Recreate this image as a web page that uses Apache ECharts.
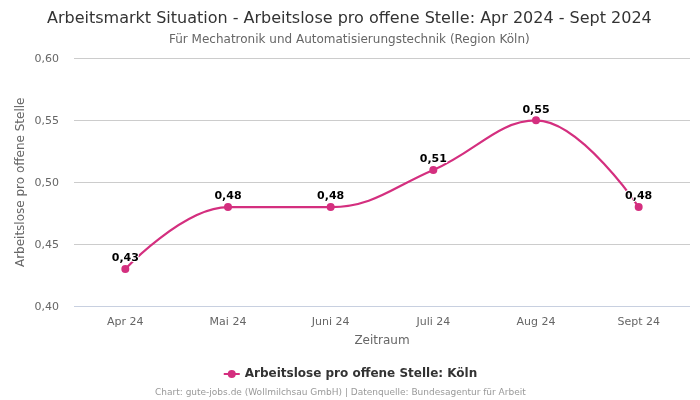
<!DOCTYPE html>
<html>
<head>
<meta charset="UTF-8">
<title>Arbeitsmarkt Situation</title>
<style>
html,body{margin:0;height:100%;background:#fff;}
#chart{width:700px;height:400px;}
</style>
</head>
<body>
<div id="chart"></div>
<script src="https://cdn.jsdelivr.net/npm/echarts@6/dist/echarts.min.js"></script>
<script>
var categories = ["Apr 24","Mai 24","Juni 24","Juli 24","Aug 24","Sept 24"];
var values = [0.43,0.48,0.48,0.51,0.55,0.48];
var seriesName = "Arbeitslose pro offene Stelle: Köln";
var font = "DejaVu Sans";

function comma(v,n){ return v.toFixed(n).replace(".",","); }

var chart = echarts.init(document.getElementById("chart"));
chart.setOption({
	animation:false,
	textStyle:{fontFamily:font},
	title:[
		{text:"Arbeitsmarkt Situation - Arbeitslose pro offene Stelle: Apr 2024 - Sept 2024",left:42,top:6,
			textStyle:{fontSize:16,fontWeight:"normal",color:"#333333",fontFamily:font}},
		{text:"Für Mechatronik und Automatisierungstechnik (Region Köln)",left:164,top:29,
			textStyle:{fontSize:12,fontWeight:"normal",color:"#666666",fontFamily:font}},
		{text:"Chart: gute-jobs.de (Wollmilchsau GmbH) | Datenquelle: Bundesagentur für Arbeit",left:150,top:383,
			textStyle:{fontSize:9,fontWeight:"normal",color:"#999999",fontFamily:font}}
	],
	legend:{
		data:[seriesName],top:363,left:"center",itemWidth:16,itemHeight:10,itemGap:0,
		textStyle:{fontSize:12,fontWeight:"bold",color:"#333333",fontFamily:font}
	},
	grid:{left:74,right:10,top:58.4,bottom:93.8},
	xAxis:{
		type:"category",data:categories,
		name:"Zeitraum",nameLocation:"middle",nameGap:29,
		nameTextStyle:{fontSize:12,color:"#666666"},
		axisLine:{show:false},
		axisTick:{show:false},
		axisLabel:{fontSize:11,color:"#666666",margin:10}
	},
	yAxis:{
		type:"value",min:0.4,max:0.6,interval:0.05,
		name:"Arbeitslose pro offene Stelle",nameLocation:"middle",nameGap:47,nameMoveOverlap:false,
		nameTextStyle:{fontSize:12,color:"#666666"},
		axisLine:{show:false},axisTick:{show:false},
		splitLine:{lineStyle:{color:["#c8d0e0","#cccccc","#cccccc","#cccccc","#cccccc"],width:1}},
		axisLabel:{fontSize:11,color:"#666666",margin:15,verticalAlign:"top",lineHeight:2,formatter:function(v){return comma(v,2);}}
	},
	series:[{
		name:seriesName,type:"line",data:values,smooth:0.4,
		symbol:"circle",symbolSize:8,
		lineStyle:{color:"#d42f7f",width:2.2},
		itemStyle:{color:"#d42f7f"},
		label:{show:true,position:"top",distance:1,fontSize:11,fontWeight:"bold",color:"#000000",
			textBorderColor:"#ffffff",textBorderWidth:2,
			formatter:function(p){return comma(p.value,2);}}
	}]
});
</script>
</body>
</html>
